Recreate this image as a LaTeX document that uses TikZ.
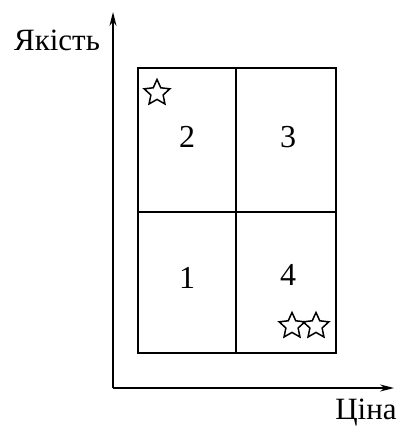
\documentclass[tikz,border=0pt]{standalone}
\usepackage{fontspec}
\setmainfont{Liberation Serif}
\usetikzlibrary{arrows.meta,shapes.geometric}
\begin{document}
\begin{tikzpicture}[x=1pt,y=-1pt,
  axis/.style={line width=1.5pt,-{Stealth[length=14pt,width=7pt]}},
  grid/.style={line width=1.7pt},
  num/.style={font=\fontsize{32}{34}\selectfont,inner sep=0pt},
  lbl/.style={font=\fontsize{31}{33}\selectfont,inner sep=0pt},
  starmark/.style={draw,star,star points=5,star point ratio=2.1,minimum size=27pt,inner sep=0pt,line width=1.5pt}]
\useasboundingbox (0,0) rectangle (396,430);
\coordinate (o) at (113,388);
\coordinate (ytop) at (113,12);
\coordinate (xend) at (394,388);
\draw[axis] (o) -- (ytop);
\draw[axis] (o) -- (xend);
\node[lbl] (ylab) at (57,40) {Якість};
\node[lbl] (xlab) at (366,413) {Ціна};
\coordinate (tl) at (138,68);
\coordinate (br) at (336,353);
\coordinate (mt) at (236,68);
\coordinate (mb) at (236,353);
\coordinate (ml) at (138,212);
\coordinate (mr) at (336,212);
\draw[grid] (tl) rectangle (br);
\draw[grid] (mt) -- (mb);
\draw[grid] (ml) -- (mr);
\node[num] (n2) at (187,137) {2};
\node[num] (n3) at (288,137) {3};
\node[num] (n1) at (187,278) {1};
\node[num] (n4) at (288,275) {4};
\node[starmark] (s1) at (157,93) {};
\node[starmark] (s2) at (292,326) {};
\node[starmark] (s3) at (316,326) {};
\end{tikzpicture}
\end{document}
